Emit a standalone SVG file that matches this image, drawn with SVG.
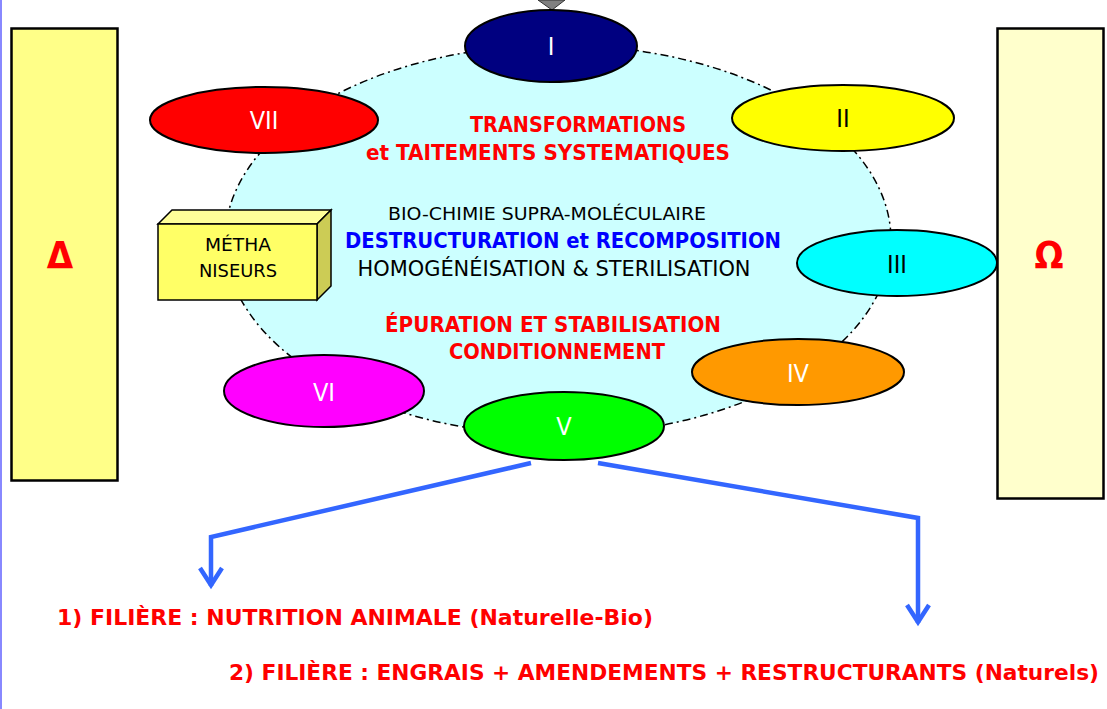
<svg xmlns="http://www.w3.org/2000/svg" width="1107" height="709" viewBox="0 0 1107 709">
<style>
text{font-family:"DejaVu Sans Condensed","DejaVu Sans","Liberation Sans",sans-serif}
.node{stroke:#000;stroke-width:2}
.lbl{font-size:25px;fill:#fff;text-anchor:middle}
.lblk{font-size:25px;fill:#000;text-anchor:middle}
.red{fill:#ff0000;font-weight:bold;font-size:22px}
.conn{fill:none;stroke:#3366ff;stroke-width:4.5}
</style>
<rect x="0" y="0" width="1107" height="709" fill="#fff"/>
<line x1="1" y1="0" x2="1" y2="709" stroke="#8888ff" stroke-width="2"/>

<g id="delta">
<rect x="11.5" y="28.5" width="106" height="452" fill="#ffff88" stroke="#000" stroke-width="2.5"/>
<text x="60" y="268" font-size="38" font-weight="bold" fill="#ff0000" text-anchor="middle">Δ</text>
</g>
<g id="omega">
<rect x="997.5" y="28.5" width="106" height="470" fill="#ffffcc" stroke="#000" stroke-width="2.5"/>
<text x="1049" y="268" font-size="38" font-weight="bold" fill="#ff0000" text-anchor="middle">Ω</text>
</g>

<g id="cycle">
<ellipse cx="558" cy="240" rx="333" ry="195" fill="#ccffff" stroke="#000" stroke-width="1.5" stroke-dasharray="8 4 2 4"/>
<text x="578" y="132" class="red" text-anchor="middle" textLength="216" lengthAdjust="spacingAndGlyphs">TRANSFORMATIONS</text>
<text x="548" y="160" class="red" text-anchor="middle" textLength="364" lengthAdjust="spacingAndGlyphs">et TAITEMENTS  SYSTEMATIQUES</text>
<text x="547" y="220" font-size="18" fill="#000" text-anchor="middle" textLength="318" lengthAdjust="spacingAndGlyphs">BIO-CHIMIE  SUPRA-MOLÉCULAIRE</text>
<text x="563" y="248" font-size="22" font-weight="bold" fill="#0000ff" text-anchor="middle" textLength="436" lengthAdjust="spacingAndGlyphs">DESTRUCTURATION et RECOMPOSITION</text>
<text x="554" y="276" font-size="21" fill="#000" text-anchor="middle" textLength="393" lengthAdjust="spacingAndGlyphs">HOMOGÉNÉISATION &amp; STERILISATION</text>
<text x="553" y="332" class="red" text-anchor="middle" textLength="336" lengthAdjust="spacingAndGlyphs">ÉPURATION ET STABILISATION</text>
<text x="557" y="359" class="red" text-anchor="middle" textLength="216" lengthAdjust="spacingAndGlyphs">CONDITIONNEMENT</text>
</g>

<g id="input-arrow">
<polygon points="538,0 565,0 552,10" fill="#808080" stroke="#333" stroke-width="1"/>
</g>

<g id="n1"><ellipse class="node" cx="551" cy="46" rx="86" ry="36" fill="#000080"/><text class="lbl" x="551" y="55">I</text></g>
<g id="n2"><ellipse class="node" cx="843" cy="118" rx="111" ry="33" fill="#ffff00"/><text class="lblk" x="843" y="127">II</text></g>
<g id="n3"><ellipse class="node" cx="897" cy="263" rx="100" ry="33" fill="#00ffff"/><text class="lblk" x="897" y="273">III</text></g>
<g id="n4"><ellipse class="node" cx="798" cy="372" rx="106" ry="33" fill="#ff9900"/><text class="lbl" x="798" y="382">IV</text></g>
<g id="n5"><ellipse class="node" cx="564" cy="426" rx="100" ry="34" fill="#00ff00"/><text class="lbl" x="564" y="435">V</text></g>
<g id="n6"><ellipse class="node" cx="324" cy="391" rx="100" ry="36" fill="#ff00ff"/><text class="lbl" x="324" y="401">VI</text></g>
<g id="n7"><ellipse class="node" cx="264" cy="120" rx="114" ry="33" fill="#ff0000"/><text class="lbl" x="264" y="129">VII</text></g>

<g id="methaniseurs">
<polygon points="158,224 172,210 331,210 317,224" fill="#ffff99" stroke="#000" stroke-width="1.5"/>
<polygon points="317,224 331,210 331,286 317,300" fill="#cccc55" stroke="#000" stroke-width="1.5"/>
<rect x="158" y="224" width="159" height="76" fill="#ffff66" stroke="#000" stroke-width="1.5"/>
<text x="238" y="251" font-size="17" fill="#000" text-anchor="middle" textLength="66" lengthAdjust="spacingAndGlyphs">MÉTHA</text>
<text x="238" y="277" font-size="17" fill="#000" text-anchor="middle" textLength="78" lengthAdjust="spacingAndGlyphs">NISEURS</text>
</g>

<g id="connectors">
<polyline class="conn" points="531,463 211,537 211,586"/>
<polyline class="conn" points="200,568 211,585 222,568"/>
<polyline class="conn" points="598,463 918,518 918,623"/>
<polyline class="conn" points="907,605 918,622 929,605"/>
</g>

<g id="outputs">
<text x="57" y="625" class="red" font-size="22" textLength="596" lengthAdjust="spacingAndGlyphs">1) FILIÈRE : NUTRITION ANIMALE (Naturelle-Bio)</text>
<text x="229" y="680" class="red" font-size="22" textLength="870" lengthAdjust="spacingAndGlyphs">2) FILIÈRE : ENGRAIS + AMENDEMENTS  + RESTRUCTURANTS (Naturels)</text>
</g>
</svg>
